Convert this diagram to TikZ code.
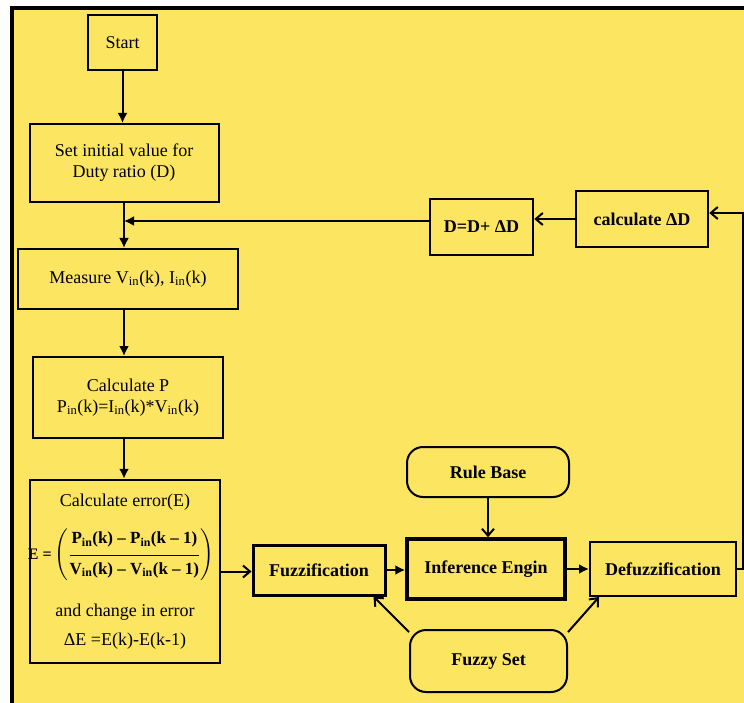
\documentclass[tikz,border=0pt]{standalone}
\usepackage{amsmath}
\usepackage{fontspec}
\setmainfont{Liberation Serif}
\usetikzlibrary{positioning,arrows.meta}
\definecolor{FlowYellow}{RGB}{252,229,96}

\begin{document}
\begin{tikzpicture}[
    x=1pt,y=-1pt,
    font=\fontsize{18}{21}\selectfont,
    box/.style={rectangle,draw,line width=2pt,align=center,inner sep=2pt},
    boldbox/.style={box,font=\fontsize{18}{21}\selectfont\bfseries},
    store/.style={boldbox,rounded corners=16pt},
    arrow/.style={line width=2pt,-{Latex[length=10pt,width=10pt]}},
    barb/.style={line width=2pt,-{Straight Barb[length=7pt,width=12pt]}}
]
\useasboundingbox (0,0) rectangle (744,703);
\fill[FlowYellow] (12,8) rectangle (744,703);
\draw[line width=4pt] (12,703) -- (12,8) -- (744,8);

\node[box,minimum width=69pt,minimum height=55pt] (start) at (122.5,42.5) {Start};
\node[box,minimum width=189pt,minimum height=78pt] (init) at (124,163) {Set initial value for\\Duty ratio (D)};
\node[box,minimum width=220pt,minimum height=60pt] (measure) at (128,279) {Measure V\textsubscript{in}(k), I\textsubscript{in}(k)};
\node[box,minimum width=190pt,minimum height=81pt] (calcp) at (128,397.5) {Calculate P\\P\textsubscript{in}(k)=I\textsubscript{in}(k)*V\textsubscript{in}(k)};
\node[box,line width=2.5pt,minimum width=190pt,minimum height=183pt,inner sep=0pt] (calcerr) at (125,571.5)
    {\begin{tabular}{@{}c@{}}
     Calculate error(E)\\[14pt]
     \hspace*{-8pt}{\fontsize{16}{18}\selectfont\bfseries E =}\,$\left(\dfrac{\rule[-9pt]{0pt}{26pt}\mbox{\fontsize{17}{20}\selectfont\bfseries P\textsubscript{in}(k) -- P\textsubscript{in}(k -- 1)}}{\rule[-9pt]{0pt}{26pt}\mbox{\fontsize{17}{20}\selectfont\bfseries V\textsubscript{in}(k) -- V\textsubscript{in}(k -- 1)}}\right)$\\[36pt]
     and change in error\\[8pt]
     ΔE =E(k)-E(k-1)
     \end{tabular}};

\node[boldbox,line width=3pt,minimum width=132pt,minimum height=50pt] (fuzz) at (319,570) {Fuzzification};
\node[boldbox,line width=3.5pt,minimum width=158pt,minimum height=60pt] (infer) at (486,569) {Inference Engin};
\node[boldbox,minimum width=146pt,minimum height=54pt] (defuzz) at (663,569) {Defuzzification};
\node[store,minimum width=162pt,minimum height=50pt] (rule) at (488,472) {Rule Base};
\node[store,minimum width=157pt,minimum height=62pt] (fuzzyset) at (488.5,661) {Fuzzy Set};
\node[boldbox,line width=2.5pt,minimum width=103pt,minimum height=56pt] (dd) at (481.5,227) {D=D+ ΔD};
\node[boldbox,line width=2.5pt,minimum width=132pt,minimum height=56pt] (calcd) at (642,219) {calculate ΔD};

\draw[arrow] (start) -- (start |- init.north);
\draw[arrow] (init) -- (init |- measure.north);
\draw[arrow] (init |- measure.south) -- (init |- calcp.north);
\draw[arrow] (init |- calcp.south) -- (init |- calcerr.north);
\draw[barb] (calcerr.east) -- (calcerr.east -| fuzz.west);
\draw[arrow] (fuzz.east) -- (fuzz.east -| infer.west);
\draw[arrow] (infer.east) -- (infer.east -| defuzz.west);
\draw[barb] (rule.south) -- (rule.south |- infer.north);
\draw[barb] (fuzzyset.160) -- ([xshift=-13pt]fuzz.south east);
\draw[barb] (fuzzyset.20) -- ([xshift=10pt]defuzz.south west);
\draw[barb] (defuzz.east) -- ++(6,0) |- ([yshift=6pt]calcd.east);
\draw[barb] (calcd.west) -- (calcd.west -| dd.east);
\draw[arrow] ([yshift=6pt]dd.west) -- ([yshift=6pt]dd.west -| init.south);
\end{tikzpicture}
\end{document}
